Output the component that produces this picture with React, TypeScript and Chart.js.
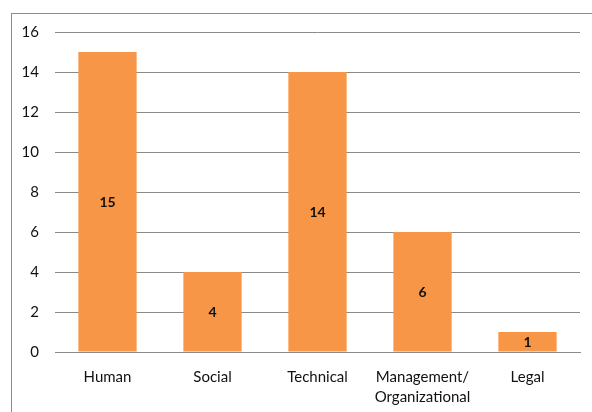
import React, { useEffect, useRef } from "react";
import { Chart, registerables } from "chart.js";

Chart.register(...registerables);

const categories: (string | string[])[] = ["Human", "Social", "Technical", ["Management/", "Organizational"], "Legal"];
const counts = [15, 4, 14, 6, 1];
const yTicks = [0, 2, 4, 6, 8, 10, 12, 14, 16];

const FONT = "Lato, 'Open Sans', sans-serif";

const valueLabels = {
  id: "valueLabels",
  afterDatasetsDraw(chart: any) {
    const ctx = chart.ctx;
    const meta = chart.getDatasetMeta(0);
    ctx.save();
    ctx.fillStyle = "#111";
    ctx.font = `bold 14px ${FONT}`;
    ctx.textAlign = "center";
    ctx.textBaseline = "middle";
    meta.data.forEach((bar: any, i: number) => {
      const mid = (bar.y + bar.base) / 2;
      ctx.fillText(String(counts[i]), bar.x, mid + 1);
    });
    ctx.restore();
  },
};

export default function App() {
  const ref = useRef<HTMLCanvasElement | null>(null);
  useEffect(() => {
    if (!ref.current) return;
    const chart = new Chart(ref.current, {
      type: "bar",
      data: {
        labels: categories,
        datasets: [
          {
            data: counts,
            backgroundColor: "#F79646",
            borderWidth: 0,
            categoryPercentage: 1,
            barPercentage: 0.555,
          },
        ],
      },
      options: {
        animation: false,
        responsive: false,
        devicePixelRatio: 1,
        layout: { padding: { top: 32, right: 12, left: 0, bottom: 0 } },
        plugins: { legend: { display: false }, tooltip: { enabled: false } },
        scales: {
          x: {
            grid: { display: false, drawTicks: false },
            border: { display: true, color: "#8a8a8a", width: 1 },
            ticks: {
              color: "#111",
              font: { family: FONT, size: 15, weight: "normal", lineHeight: 1.33 },
              padding: 15,
              maxRotation: 0,
              autoSkip: false,
            },
            afterFit(scale: any) {
              scale.height = 60;
            },
          },
          y: {
            min: 0,
            max: 16,
            afterBuildTicks(scale: any) {
              scale.ticks = yTicks.map((v) => ({ value: v }));
            },
            grid: { color: "#8a8a8a", lineWidth: 1, drawTicks: false },
            border: { display: false },
            ticks: {
              color: "#111",
              font: { family: FONT, size: 15, weight: "normal" },
              padding: 16,
            },
            afterFit(scale: any) {
              scale.width = 55;
            },
          },
        },
      },
      plugins: [valueLabels],
    });
    return () => chart.destroy();
  }, []);

  return (
    <div style={{ position: "fixed", left: 0, top: 0, width: 592, height: 412, overflow: "hidden", background: "#fff" }}>
      <div
        style={{
          position: "absolute",
          left: 11,
          top: 13,
          width: 620,
          height: 440,
          border: "1px solid #8c8c8c",
          boxSizing: "border-box",
        }}
      />
      <canvas ref={ref} width={592} height={412} style={{ position: "absolute", left: 0, top: 0 }} />
    </div>
  );
}
